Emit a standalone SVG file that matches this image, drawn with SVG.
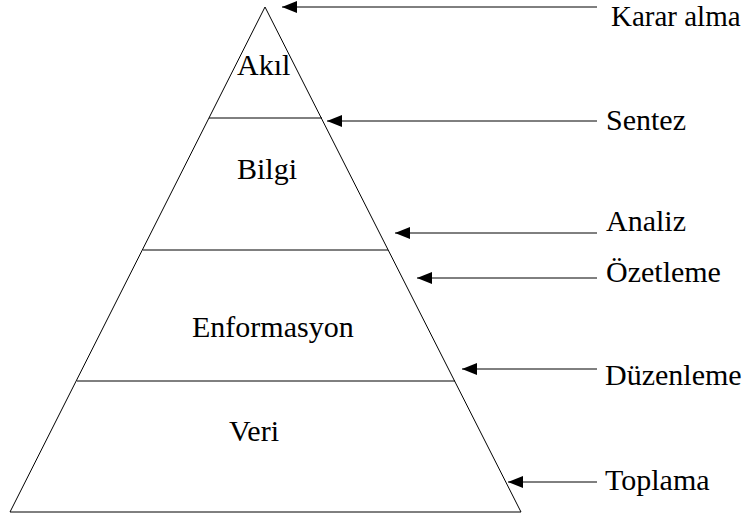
<svg xmlns="http://www.w3.org/2000/svg" width="744" height="517" viewBox="0 0 744 517">
<style>
  .t { font-family: "Liberation Serif", "Times New Roman", "DejaVu Serif", serif; font-size: 30px; fill: #000; }
  .edge { stroke: #000; stroke-width: 1; fill: none; }
  .shape { stroke: #000; stroke-width: 1; fill: none; }
</style>
<defs>
  <marker id="ah" markerWidth="15" markerHeight="12" refX="15" refY="6" orient="auto" markerUnits="userSpaceOnUse">
    <path d="M0,0 L15,6 L0,12 Z" fill="#000"/>
  </marker>
</defs>
<rect width="744" height="517" fill="#fff"/>
<g id="pyramid">
  <path class="shape" d="M265,7 L10,512 L521,512 Z"/>
  <line class="shape" x1="209" y1="118" x2="322" y2="118" stroke-width="1.5"/>
  <line class="shape" x1="143" y1="250" x2="388" y2="250" stroke-width="1.5"/>
  <line class="shape" x1="77" y1="381" x2="455" y2="381" stroke-width="2"/>
</g>
<g id="akil"><text class="t" x="237" y="75">Akıl</text></g>
<g id="bilgi"><text class="t" x="237" y="179">Bilgi</text></g>
<g id="enformasyon"><text class="t" x="192" y="337">Enformasyon</text></g>
<g id="veri"><text class="t" x="229" y="441">Veri</text></g>
<g id="karar"><text class="t" x="611" y="26" style="font-size:29px">Karar alma</text></g>
<g id="sentez"><text class="t" x="606" y="130">Sentez</text></g>
<g id="analiz"><text class="t" x="606" y="231">Analiz</text></g>
<g id="ozetleme"><text class="t" x="606" y="282">Özetleme</text></g>
<g id="duzenleme"><text class="t" x="605" y="385">Düzenleme</text></g>
<g id="toplama"><text class="t" x="605" y="490">Toplama</text></g>
<g id="connectors">
  <line class="edge" x1="597" y1="7" x2="282" y2="7" marker-end="url(#ah)"/>
  <line class="edge" x1="597" y1="121" x2="327" y2="121" marker-end="url(#ah)"/>
  <line class="edge" x1="597" y1="233" x2="395" y2="233" marker-end="url(#ah)"/>
  <line class="edge" x1="597" y1="278" x2="417" y2="278" marker-end="url(#ah)"/>
  <line class="edge" x1="597" y1="369" x2="462" y2="369" marker-end="url(#ah)"/>
  <line class="edge" x1="597" y1="482" x2="508" y2="482" marker-end="url(#ah)"/>
</g>
</svg>
